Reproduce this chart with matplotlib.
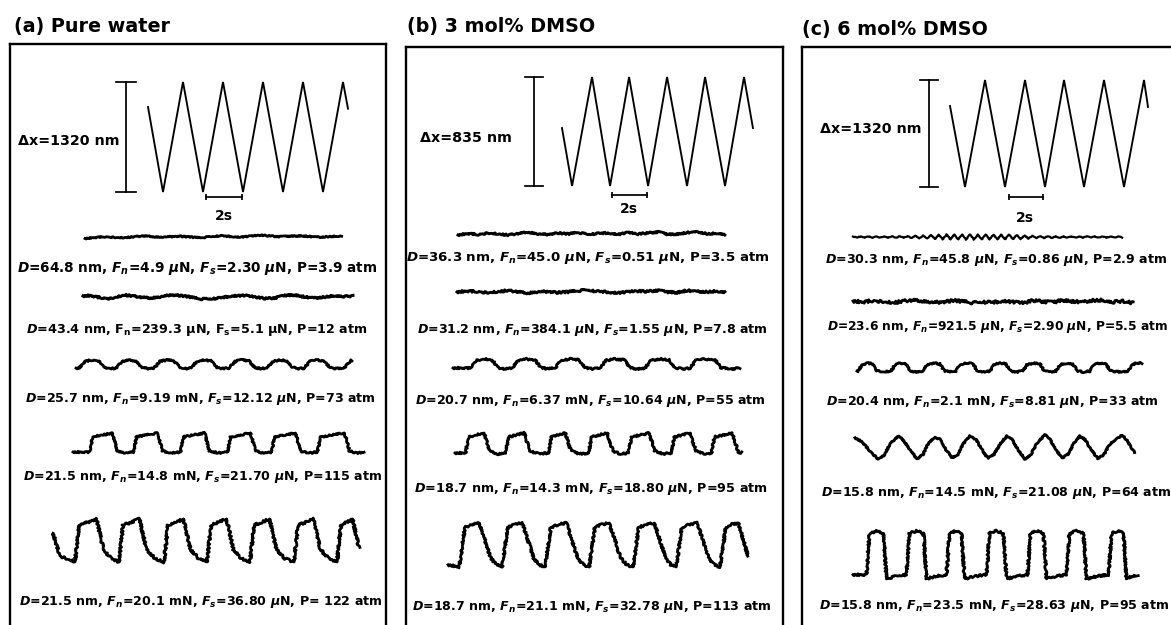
import numpy as np
import matplotlib
matplotlib.use("Agg")
import matplotlib.pyplot as plt

W, H = 1171, 625
plt.rcParams['font.family'] = ['DejaVu Sans']
plt.rcParams['font.weight'] = 'bold'
plt.rcParams['mathtext.fontset'] = 'custom'
plt.rcParams['mathtext.rm'] = 'DejaVu Sans:bold'
plt.rcParams['mathtext.it'] = 'DejaVu Sans:italic:bold'
plt.rcParams['mathtext.bf'] = 'DejaVu Sans:bold'
plt.rcParams['mathtext.fallback'] = 'stixsans'

# ---------------- text ----------------
titles = ["(a) Pure water", "(b) 3 mol% DMSO", "(c) 6 mol% DMSO"]
dx_labels = ["Δx=1320 nm", "Δx=835 nm", "Δx=1320 nm"]
dx_values = [1320, 835, 1320]
time_label = "2s"
a_labels = [
    r"$D$=64.8 nm, $F_n$=4.9 $\mu$N, $F_s$=2.30 $\mu$N, P=3.9 atm",
    r"$D$=43.4 nm, F$_\mathrm{n}$=239.3 µN, F$_\mathrm{s}$=5.1 µN, P=12 atm",
    r"$D$=25.7 nm, $F_n$=9.19 mN, $F_s$=12.12 $\mu$N, P=73 atm",
    r"$D$=21.5 nm, $F_n$=14.8 mN, $F_s$=21.70 $\mu$N, P=115 atm",
    r"$D$=21.5 nm, $F_n$=20.1 mN, $F_s$=36.80 $\mu$N, P= 122 atm",
]
b_labels = [
    r"$D$=36.3 nm, $F_n$=45.0 $\mu$N, $F_s$=0.51 $\mu$N, P=3.5 atm",
    r"$D$=31.2 nm, $F_n$=384.1 $\mu$N, $F_s$=1.55 $\mu$N, P=7.8 atm",
    r"$D$=20.7 nm, $F_n$=6.37 mN, $F_s$=10.64 $\mu$N, P=55 atm",
    r"$D$=18.7 nm, $F_n$=14.3 mN, $F_s$=18.80 $\mu$N, P=95 atm",
    r"$D$=18.7 nm, $F_n$=21.1 mN, $F_s$=32.78 $\mu$N, P=113 atm",
]
c_labels = [
    r"$D$=30.3 nm, $F_n$=45.8 $\mu$N, $F_s$=0.86 $\mu$N, P=2.9 atm",
    r"$D$=23.6 nm, $F_n$=921.5 $\mu$N, $F_s$=2.90 $\mu$N, P=5.5 atm",
    r"$D$=20.4 nm, $F_n$=2.1 mN, $F_s$=8.81 $\mu$N, P=33 atm",
    r"$D$=15.8 nm, $F_n$=14.5 mN, $F_s$=21.08 $\mu$N, P=64 atm",
    r"$D$=15.8 nm, $F_n$=23.5 mN, $F_s$=28.63 $\mu$N, P=95 atm",
]

# ---------------- drive (triangle) signals: time (s), displacement (nm) ----------------
a_tri_t = [0, 0.75, 1.75, 2.75, 3.75, 4.75, 5.75, 6.75, 7.75, 8.75, 9.75, 10.0]
a_tri_x = [1020, 0, 1320, 0, 1320, 0, 1320, 0, 1320, 0, 1320, 1000]
b_tri_t = [0, 0.53, 1.58, 2.53, 3.53, 4.53, 5.53, 6.58, 7.53, 8.58, 9.58, 10.05]
b_tri_x = [444, 0, 835, 0, 835, 0, 835, 0, 835, 0, 835, 444]
c_tri_t = [0, 0.75, 1.75, 2.75, 3.75, 4.75, 5.7, 6.7, 7.7, 8.7, 9.7, 9.9]
c_tri_x = [999, 0, 1320, 0, 1320, 0, 1320, 0, 1320, 0, 1320, 987]

# ---------------- friction traces (time in s, signal in a.u.) ----------------
a1_t = [0, 0.92, 1.92, 2.92, 3.75, 4.75, 5.75, 6.75, 7.75, 8.75, 9.75, 10.75, 11.75, 12.83]
a1_v = [-1.5, 0.3, -0.8, 1.2, -0.2, 0.8, -0.8, 1.2, -0.2, 1.8, 0.3, 1.2, -0.2, 1.2]
a2_t = [0, 0.35, 0.7, 1.0, 1.35, 1.7, 2.1, 2.5, 2.85, 3.35, 3.85, 4.35, 4.85, 5.35, 5.85,
        6.35, 6.85, 7.45, 8.1, 8.6, 9.1, 9.6, 10.1, 10.6, 11.1, 11.6, 12.1, 12.6, 13.1, 13.5]
a2_v = [1, 1.5, 0, -1, -1.5, 0, 2, 1, 0, -1, 0, 2, 1.5, 0, -2,
        -2, -1, 1, 1.5, 0, -1.5, -1, 1.5, 2, 0, -1, 0, 1.5, 0.5, 1]
a3_rise = [0.3, 2.15, 4.05, 5.9, 7.8, 9.7, 11.55, 13.55]
a3_fall = [1.3, 3.15, 5.05, 6.9, 8.8, 10.7, 12.55]
a4_rise = [0.9, 3.1, 5.45, 7.8, 10.0, 12.3]
a4_fall = [2.1, 4.35, 6.7, 9.0, 11.25, 13.7]
a5_rise = [1.2, 3.4, 5.65, 7.8, 9.95, 12.15, 14.3]
a5_fall = [2.35, 4.5, 6.7, 8.85, 11.0, 13.2, 15.15]

b1_t = [0, 0.53, 1.05, 1.58, 2.1, 2.63, 3.16, 3.68, 4.21, 4.74, 5.26, 5.79, 6.32, 6.84,
        7.37, 7.89, 8.42, 8.95, 9.47, 10.0, 10.53, 11.05, 11.58, 12.11, 12.63, 13.16, 13.68, 14.05]
b1_v = [-1, 0.5, -0.5, 1, 0, -1, 0.5, 2, 0, -0.5, 1, 0, 1.5, -0.5,
        0.5, 1, -0.5, 1.5, 0, 1, 2, -0.5, 0, 1.5, 2, 0, 1, -0.5]
b2_t = [0, 0.53, 1.05, 1.58, 2.1, 2.63, 3.16, 3.68, 4.21, 4.74, 5.26, 5.79, 6.32, 6.84,
        7.37, 7.89, 8.42, 8.95, 9.47, 10.0, 10.53, 11.05, 11.58, 12.11, 12.63, 13.16, 13.68, 14.1]
b2_v = [0, 1, 0.5, -0.5, 0, 1.5, 0.5, -1, 0, 0.5, -0.5, 0, 1, 2,
        0.5, 0, -1, 0, 1, 0.5, 1.5, 0, -0.5, 1.5, 0.5, 0, 1, 0]
b3_rise = [1.05, 3.26, 5.53, 7.89, 10.26, 12.63]
b3_fall = [2.21, 4.47, 6.79, 9.16, 11.53, 13.95]
b4_rise = [0.63, 2.74, 5.0, 7.11, 9.21, 11.47, 13.58]
b4_fall = [1.68, 3.79, 5.95, 8.16, 10.37, 12.53, 14.74]
b5_rise = [0.74, 3.0, 5.26, 7.58, 9.89, 12.16, 14.47]
b5_fall = [1.95, 4.21, 6.53, 8.79, 11.16, 13.42, 15.58]

c1_period = 0.39
c1_amp = [0.4, 0.5, 0.5, 0.6, 0.7, 0.8, 0.9, 1.0, 1.2, 1.5, 2.0, 2.3, 2.5, 2.5, 2.6, 2.6, 2.5, 2.5,
          2.4, 2.3, 2.2, 2.0, 1.6, 1.3, 1.0, 0.9, 0.8, 0.7, 0.6, 0.6, 0.5, 0.5, 0.5, 0.4, 0.4]
c2_t = [0.0, 0.5, 1.0, 1.5, 2.0, 2.5, 3.0, 3.5, 4.0, 4.5, 5.0, 5.5, 6.0, 6.5, 7.0, 7.5, 8.0,
        8.5, 9.0, 9.5, 10.0, 10.5, 11.0, 11.5, 12.0, 12.5, 13.0, 13.5, 14.0]
c2_v = [1, 0, 1.5, 0.5, -1, 1, 2, 1, -0.5, 0, 1.5, 0.5, -1, 0, -0.5, 1, 0,
        -1, 1.5, 0.5, -0.5, 2, 0.5, 0, 1.5, 2, 0, 1, -1]
c3_rise = [0.15, 1.8, 3.4, 5.05, 6.75, 8.4, 10.05, 11.75, 13.65]
c3_fall = [0.9, 2.55, 4.25, 5.9, 7.55, 9.25, 10.9, 12.55]
c4_t = [0, 0.35, 0.75, 1.15, 1.45, 1.75, 2.15, 2.4, 2.75, 3.1, 3.4, 3.65, 4.0, 4.25, 4.55, 4.85,
        5.15, 5.4, 5.75, 6.05, 6.35, 6.65, 6.95, 7.25, 7.6, 7.85, 8.15, 8.5, 8.8, 9.1, 9.5, 9.75,
        10.05, 10.35, 10.65, 10.95, 11.25, 11.5, 11.8, 12.15, 12.45, 12.75, 13.05, 13.35, 13.6,
        13.8, 14.0]
c4_v = [0.92, 0.75, 0.35, 0.0, 0.15, 0.65, 1.0, 0.85, 0.4, 0.0, 0.2, 0.65, 0.95, 0.85, 0.4, 0.05,
        0.2, 0.65, 1.0, 0.85, 0.4, 0.02, 0.2, 0.65, 1.0, 0.85, 0.4, 0.0, 0.2, 0.7, 1.05, 0.85,
        0.4, 0.05, 0.2, 0.7, 1.0, 0.85, 0.4, 0.02, 0.2, 0.65, 0.85, 1.05, 0.8,
        0.5, 0.3]
c5_rise = [0.75, 2.75, 4.75, 6.75, 8.8, 10.75, 12.85]
c5_fall = [1.6, 3.6, 5.5, 7.6, 9.6, 11.6, 13.6]


def square_wave(t_end, rises, falls, v0, v_end, rd, fd, hi, lo, head=()):
    ev = sorted([(r, 'r') for r in rises] + [(f, 'f') for f in falls])
    pts = [(0.0, v0)] + list(head)
    for i, (t, k) in enumerate(ev):
        if i + 1 < len(ev):
            nt, nk = ev[i + 1]
            nstart = nt - (rd if nk == 'r' else fd) / 2
        else:
            nstart = t_end
        if k == 'r':
            b = t + rd / 2
            pts += [(t - rd / 2, lo[2]), (b, hi[0]), ((b + nstart) / 2, hi[1])]
            if i + 1 < len(ev):
                pts.append((nstart, hi[2]))
        else:
            b = t + fd / 2
            pts += [(t - fd / 2, hi[2]), (b, lo[0]), ((b + nstart) / 2, lo[1])]
            if i + 1 < len(ev):
                pts.append((nstart, lo[2]))
    pts = [p for p in pts if 0 <= p[0] < t_end] + [(t_end, v_end)]
    pts.sort(key=lambda p: p[0])
    return [p[0] for p in pts], [p[1] for p in pts]


def zigzag(period, amps):
    t, v = [], []
    for i, a in enumerate(amps):
        t += [i * period, (i + 0.5) * period]
        v += [a, -a]
    return t, v


# ---------------- layout (pixels) ----------------
fig = plt.figure(figsize=(W / 100, H / 100), dpi=100)


def ptext(x, y, s, **kw):
    fig.text(x / W, 1 - y / H, s, **kw)


def data_axes(x0, pps, y0, ppu):
    ax = fig.add_axes([0, 0, 1, 1])
    ax.set_axis_off()
    ax.patch.set_alpha(0)
    ax.set_xlim((0 - x0) / pps, (W - x0) / pps)
    ax.set_ylim((y0 - H) / ppu, y0 / ppu)
    return ax


boxes = [(10, 44, 386, 660), (406, 47, 783, 660), (802, 47, 1210, 660)]
for (l, t, r, b) in boxes:
    ax = fig.add_axes([l / W, 1 - b / H, (r - l) / W, (b - t) / H])
    ax.set_xticks([]); ax.set_yticks([])
    ax.patch.set_alpha(0)
    for sp in ax.spines.values():
        sp.set_linewidth(1.7)
        sp.set_color('black')

title_pos = [(14, 32), (407, 32), (802, 35)]
for (x, y), s in zip(title_pos, titles):
    ptext(x, y, s, fontsize=13.8, fontweight='bold', ha='left', va='baseline')

# triangle panels: (x at t=0, px per s, y at 0 nm, px per nm)
tri_layout = [(148, 20, 192, 110 / 1320), (562, 19, 186, 109 / 835), (950, 20, 187, 107 / 1320)]
tri_data = [(a_tri_t, a_tri_x), (b_tri_t, b_tri_x), (c_tri_t, c_tri_x)]
vbar_t = [-1.1, -1.47, -1.05]
vbar_cap = [0.48, 0.47, 0.45]
tbar = [(2.9, 4.7, -60), (2.63, 4.47, -69), (2.95, 4.65, -123)]
dx_label_pos = [(119, 145), (512, 142), (922, 133)]
ts_label_pos = [(224, 220), (629, 213), (1025, 222)]

for i in range(3):
    ax = data_axes(*tri_layout[i])
    tt, xx = tri_data[i]
    ax.plot(tt, xx, color='black', lw=1.35, solid_joinstyle='miter')
    vb = vbar_t[i]
    ax.plot([vb, vb], [0, dx_values[i]], color='black', lw=1.25)
    for yv in (0, dx_values[i]):
        ax.plot([vb - vbar_cap[i], vb + vbar_cap[i]], [yv, yv], color='black', lw=1.25)
    t0, t1, yv = tbar[i]
    ax.plot([t0, t1], [yv, yv], color='black', lw=1.25, marker='|', markersize=5,
            markeredgewidth=1.25)
    ptext(*dx_label_pos[i], dx_labels[i], fontsize=10.3, fontweight='bold', ha='right', va='baseline')
    ptext(*ts_label_pos[i], time_label, fontsize=10, fontweight='bold', ha='center', va='baseline')

# friction traces
pps = [20, 19, 20]
traces = [
    [(a1_t, a1_v), (a2_t, a2_v),
     square_wave(13.8, a3_rise, a3_fall, 0.1, 0.9, 0.3, 0.3, (0.85, 1.0, 0.9), (0.15, 0.05, 0.1)),
     square_wave(14.55, a4_rise, a4_fall, 0.05, 0.05, 0.15, 0.25, (0.85, 0.95, 1.05), (0.1, 0.0, 0.05)),
     square_wave(15.3, a5_rise, a5_fall, 0.7, 0.35, 0.2, 0.35, (0.9, 0.97, 1.05), (0.3, 0.08, 0.0),
                 head=[(0.35, 0.15)])],
    [(b1_t, b1_v), (b2_t, b2_v),
     square_wave(15.1, b3_rise, b3_fall, 0.1, 0.1, 0.3, 0.3, (0.85, 1.0, 0.9), (0.15, 0.0, 0.1)),
     square_wave(15.1, b4_rise, b4_fall, 0.05, 0.1, 0.15, 0.3, (0.85, 0.95, 1.05), (0.15, 0.0, 0.05)),
     square_wave(15.79, b5_rise, b5_fall, 0.05, 0.25, 0.3, 0.6, (0.9, 0.97, 1.0), (0.2, 0.05, 0.0))],
    [zigzag(c1_period, c1_amp), (c2_t, c2_v),
     square_wave(14.25, c3_rise, c3_fall, 0.1, 1.0, 0.2, 0.2, (0.8, 1.0, 0.9), (0.15, 0.0, 0.1)),
     (c4_t, c4_v),
     square_wave(14.25, c5_rise, c5_fall, 0.05, 0.05, 0.15, 0.15, (0.95, 1.0, 0.95), (-0.04, 0.02, 0.05))],
]
# (x start px, y baseline px, px per unit)
trace_layout = [
    [(85, 237, 1), (83, 297, 1), (76, 369, 9), (73, 453, 19), (53, 562, 41)],
    [(458, 234, 1), (457, 292, 1), (453, 369, 10), (455, 454, 20), (448, 567, 44)],
    [(853, 237, 1), (853, 302, 1), (857, 372, 9), (855, 459, 23), (853, 577, 46)],
]
line_w = [
    [2.0, 2.2, 2.0, 2.0, 2.0],
    [2.1, 2.1, 2.0, 2.0, 2.0],
    [1.6, 2.0, 2.0, 2.1, 2.0],
]
noise = [
    [0.6, 0.8, 0.8, 0.8, 1.1],
    [0.8, 1.0, 0.9, 0.9, 1.0],
    [0.3, 1.4, 0.8, 0.6, 1.0],
]
for p in range(3):
    for k in range(5):
        x0, y0, g = trace_layout[p][k]
        ax = data_axes(x0, pps[p], y0, g)
        tt, vv = traces[p][k]
        ln, = ax.plot(tt, vv, color='black', lw=line_w[p][k])
        ln.set_sketch_params(noise[p][k], 1.0, 4.0)

label_pos = [
    [(197, 272), (197, 333), (200, 402), (203, 480), (201, 605)],
    [(588, 261), (592, 333), (590, 404), (591, 492), (592, 610)],
    [(996, 263), (998, 330), (992, 405), (996, 496), (994, 609)],
]
label_size = [
    [9.8, 9.2, 9.1, 9.1, 9.1],
    [9.6, 9.1, 9.1, 9.2, 9.1],
    [9.1, 8.8, 9.1, 9.1, 9.1],
]
for p, labels in enumerate([a_labels, b_labels, c_labels]):
    for k, s in enumerate(labels):
        ptext(*label_pos[p][k], s, fontsize=label_size[p][k], fontweight='bold',
              ha='center', va='baseline')

fig.savefig("out.png", dpi=100)
